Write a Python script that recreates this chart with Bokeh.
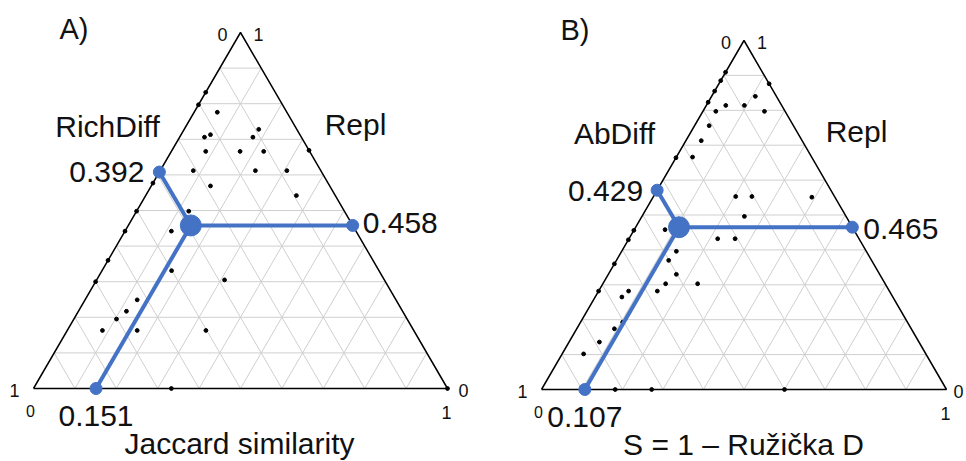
from bokeh.plotting import figure
from bokeh.models import Range1d
from bokeh.core.properties import value
from bokeh.embed import file_html
from bokeh.resources import INLINE

# ---------------- data ----------------
# Panel A: Jaccard-based decomposition (S = similarity, R = replacement; D = 1 - S - R)
A_mean_S = 0.151
A_mean_D = 0.392
A_mean_R = 0.458
A_pts_S = [0.056, 0.180, 0.060, 0.071, 0.177, 0.083, 0.166, 0.223, 0.080, 0.230,
           0.306, 0.143, 0.364, 0.126, 0.112, 0.168, 0.309, 0.126, 0.116, 0.103,
           0.085, 0.169, 0.335, 0.333, 1.000,
           0.0, 0.0, 0.0, 0.0, 0.0, 0.0, 0.0, 0.331]
A_pts_R = [0.776, 0.728, 0.706, 0.713, 0.706, 0.666, 0.666, 0.666, 0.612, 0.612,
           0.612, 0.569, 0.542, 0.498, 0.442, 0.331, 0.305, 0.249, 0.217, 0.195,
           0.163, 0.163, 0.163, 0.000, 0.000,
           0.832, 0.797, 0.577, 0.498, 0.442, 0.360, 0.300, 0.669]

# Panel B: Ruzicka-based decomposition
B_mean_S = 0.107
B_mean_D = 0.429
B_mean_R = 0.465
B_pts_S = [0.124, 0.108, 0.048, 0.032, 0.094, 0.152, 0.036, 0.038, 0.040, 0.203,
           0.243, 0.392, 0.253, 0.076, 0.219, 0.262, 0.135, 0.129, 0.168, 0.155,
           0.234, 0.145, 0.074, 0.066, 0.104, 0.093, 0.075, 0.053, 0.182, 0.272,
           0.600,
           0.0, 0.0, 0.0, 0.0, 0.0, 0.0, 0.0, 0.0, 0.0]
B_pts_R = [0.876, 0.840, 0.814, 0.797, 0.814, 0.797, 0.756, 0.713, 0.666, 0.553,
           0.553, 0.551, 0.496, 0.458, 0.432, 0.432, 0.396, 0.370, 0.330, 0.303,
           0.303, 0.282, 0.282, 0.265, 0.193, 0.174, 0.136, 0.102, 0.000, 0.000,
           0.000,
           0.909, 0.885, 0.855, 0.823, 0.664, 0.456, 0.429, 0.360, 0.282]

A_labels = {"panel": "A)", "left": "RichDiff", "right": "Repl", "bottom": "Jaccard similarity"}
B_labels = {"panel": "B)", "left": "AbDiff", "right": "Repl", "bottom": "S = 1 \u2013 Ru\u017ei\u010dka D"}
corner_ticks = ["0", "1"]
n_div = 10

# ---------------- layout ----------------
BLUE = "#4472C4"
FONT = value("Liberation Sans")
WIDTH, HEIGHT = 966, 461

panels = [
    dict(x0=33, y0=388, W=414, H=356, mean=(A_mean_S, A_mean_D, A_mean_R),
         S=A_pts_S, R=A_pts_R, lab=A_labels,
         lab_pos=dict(panel=(59, 28), left=(107, 126), right=(355, 124), bottom=(239, 443)),
         off_l=(-15, 0), off_r=(10, -2), rzero=16),
    dict(x0=541, y0=389, W=405, H=349, mean=(B_mean_S, B_mean_D, B_mean_R),
         S=B_pts_S, R=B_pts_R, lab=B_labels,
         lab_pos=dict(panel=(560, 29), left=(614, 133), right=(856, 131), bottom=(743, 444)),
         off_l=(-14, 1), off_r=(11, 2), rzero=12),
]

p = figure(width=WIDTH, height=HEIGHT, x_range=Range1d(0, WIDTH), y_range=Range1d(HEIGHT, 0),
           output_backend="svg", toolbar_location=None, min_border=0,
           x_axis_type=None, y_axis_type=None)
p.grid.visible = False
p.outline_line_color = None
p.background_fill_color = "white"


def tern(pn, S, R):
    return pn["x0"] + (S + R / 2.0) * pn["W"], pn["y0"] - R * pn["H"]


def txt(x, y, t, size, align="left"):
    p.text(x=[x], y=[y], text=[t], text_font=FONT, text_font_size=value(size),
           text_align=align, text_baseline="middle", text_color="#111111")


for pn in panels:
    # grid
    gx, gy = [], []
    for k in range(1, n_div):
        f = k / n_div
        for (s1, r1, s2, r2) in [(0, f, 1 - f, f), (f, 0, f, 1 - f), (1 - f, 0, 0, 1 - f)]:
            xa, ya = tern(pn, s1, r1)
            xb, yb = tern(pn, s2, r2)
            gx.append([xa, xb]); gy.append([ya, yb])
    p.multi_line(gx, gy, line_color="#cfcfcf", line_width=1)
    # triangle edges
    cx, cy = zip(*[tern(pn, s, r) for s, r in [(0, 0), (1, 0), (0, 1), (0, 0)]])
    p.line(list(cx), list(cy), line_color="black", line_width=1.5)
    # points
    px, py = zip(*[tern(pn, s, r) for s, r in zip(pn["S"], pn["R"])])
    p.scatter(list(px), list(py), size=3.8, color="black", marker="circle")
    # mean and its three projections
    mS, mD, mR = pn["mean"]
    c = tern(pn, mS, mR)
    eb = tern(pn, mS, 0)
    el = tern(pn, 0, 1 - mD)
    er = tern(pn, 1 - mR, mR)
    p.multi_line([[c[0], eb[0]], [c[0], el[0]], [c[0], er[0]]],
                 [[c[1], eb[1]], [c[1], el[1]], [c[1], er[1]]],
                 line_color=BLUE, line_width=4)
    p.scatter([eb[0], el[0], er[0]], [eb[1], el[1], er[1]], size=12, color=BLUE)
    p.scatter([c[0]], [c[1]], size=21, color=BLUE)
    # value labels
    txt(el[0] + pn["off_l"][0], el[1] + pn["off_l"][1], f"{mD:.3f}", "30px", "right")
    txt(er[0] + pn["off_r"][0], er[1] + pn["off_r"][1], f"{mR:.3f}", "30px", "left")
    txt(eb[0], eb[1] + 27, f"{mS:.3f}", "30px", "center")
    # axis titles
    lab, lp = pn["lab"], pn["lab_pos"]
    txt(lp["panel"][0], lp["panel"][1], lab["panel"], "29px", "left")
    txt(lp["left"][0], lp["left"][1], lab["left"], "30px", "center")
    txt(lp["right"][0], lp["right"][1], lab["right"], "30px", "center")
    txt(lp["bottom"][0], lp["bottom"][1], lab["bottom"], "30px", "center")
    # corner ticks
    x0, y0, W = pn["x0"], pn["y0"], pn["W"]
    ax, ay = tern(pn, 0, 1)
    txt(ax - 18, ay + 2, corner_ticks[0], "18px", "center")
    txt(ax + 18, ay + 2, corner_ticks[1], "18px", "center")
    txt(x0 - 19, y0 + 2, corner_ticks[1], "18px", "center")
    txt(x0 - 3, y0 + 22, corner_ticks[0], "16px", "center")
    txt(x0 + W + pn["rzero"], y0 + 2, corner_ticks[0], "18px", "center")
    txt(x0 + W - 1, y0 + 24, corner_ticks[1], "18px", "center")

open("out.html", "w").write(file_html(p, INLINE))
